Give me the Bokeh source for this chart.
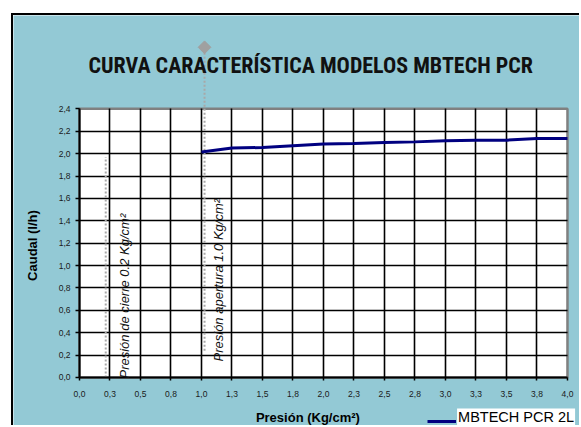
import math
from bokeh.plotting import figure
from bokeh.models import Range1d, FixedTicker, Label, Legend, LegendItem
from bokeh.embed import file_html
from bokeh.resources import INLINE

title_text = "CURVA CARACTERÍSTICA  MODELOS MBTECH PCR"
x_title = "Presión  (Kg/cm²)"
y_title = "Caudal (l/h)"
series_name = "MBTECH PCR 2L"

presion = [1.0, 1.25, 1.5, 1.75, 2.0, 2.25, 2.5, 2.75, 3.0, 3.25, 3.5, 3.75, 4.0]
caudal = [2.015, 2.05, 2.055, 2.07, 2.085, 2.09, 2.10, 2.105, 2.115, 2.12, 2.12, 2.135, 2.135]

x_ticks = [0.0, 0.25, 0.5, 0.75, 1.0, 1.25, 1.5, 1.75, 2.0, 2.25, 2.5, 2.75,
           3.0, 3.25, 3.5, 3.75, 4.0]
x_tick_labels = ["0,0", "0,3", "0,5", "0,8", "1,0", "1,3", "1,5", "1,8", "2,0",
                 "2,3", "2,5", "2,8", "3,0", "3,3", "3,5", "3,8", "4,0"]
y_ticks = [0.0, 0.2, 0.4, 0.6, 0.8, 1.0, 1.2, 1.4, 1.6, 1.8, 2.0, 2.2, 2.4]
y_tick_labels = ["0,0", "0,2", "0,4", "0,6", "0,8", "1,0", "1,2", "1,4", "1,6",
                 "1,8", "2,0", "2,2", "2,4"]

ref_labels = ["Presión de cierre  0.2 Kg/cm²", "Presión apertura 1.0 Kg/cm²"]
ref_x = [0.215, 1.025]
ref_y0 = [0.0, 0.24]
ref_y1 = [1.97, 2.95]

BG = "#93C9D5"

# whole canvas is the frame: 122 px per x unit, 111.94 px per y unit
p = figure(width=568, height=412, output_backend="svg", toolbar_location=None,
           x_range=Range1d(-0.541, 4.115), y_range=Range1d(-0.4467, 3.234),
           min_border_left=0, min_border_right=0, min_border_top=0, min_border_bottom=0,
           background_fill_color=BG, border_fill_color=BG, outline_line_color=None)
p.margin = (13, 0, 0, 11)
p.styles = {"border-top": "2px solid black", "border-left": "2px solid black"}

# plot area
p.quad(left=[x_ticks[0]], right=[x_ticks[-1]], bottom=[y_ticks[0]], top=[y_ticks[-1]],
       fill_color="white", line_color="#808080", line_width=2.5, level="image")

for ax, ticks, labels, tout, stand in ((p.xaxis, x_ticks, x_tick_labels, 3, 11),
                                       (p.yaxis, y_ticks, y_tick_labels, 4, 5)):
    ax.ticker = FixedTicker(ticks=ticks)
    ax.major_label_overrides = dict(zip(ticks, labels))
    ax.bounds = (ticks[0], ticks[-1])
    ax.fixed_location = 0
    ax.axis_line_color = "black"
    ax.axis_line_width = 2
    ax.major_tick_line_color = "black"
    ax.major_tick_line_width = 1.5
    ax.major_tick_out = tout
    ax.major_tick_in = 0
    ax.minor_tick_out = 0
    ax.minor_tick_in = 0
    ax.major_label_standoff = stand
    ax.major_label_text_font = "Liberation Sans"
    ax.major_label_text_font_size = "8.5px"
    ax.major_label_text_color = "#1a1a1a"

p.xgrid.ticker = FixedTicker(ticks=x_ticks[1:-1])
p.ygrid.ticker = FixedTicker(ticks=y_ticks[1:-1])
p.xgrid.cross_bounds = (y_ticks[0], y_ticks[-1])
p.ygrid.cross_bounds = (x_ticks[0], x_ticks[-1])
for g in (p.xgrid, p.ygrid):
    g.grid_line_color = "black"
    g.grid_line_width = 1.6
    g.grid_line_alpha = 1.0

# reference (dotted) lines
p.segment(x0=ref_x, y0=ref_y0, x1=ref_x, y1=ref_y1, line_color="#A8A8A8",
          line_width=2, line_dash="2 2")
p.scatter(x=[ref_x[1]], y=[ref_y1[1]], marker="square", angle=math.pi / 4, size=9,
          fill_color="#A0A0A0", line_color="#A0A0A0")

line_r = p.line(presion, caudal, line_color="#000080", line_width=3)

legend = Legend(items=[LegendItem(label=" ", renderers=[line_r])], location=(414, 1),
                glyph_width=29, glyph_height=10, padding=0, margin=0, spacing=0,
                label_standoff=0, label_width=0, label_height=10,
                label_text_font_size="1px",
                border_line_color=None, background_fill_alpha=0)
p.add_layout(legend)

p.add_layout(Label(x=3.095, y=-0.357, text=series_name, text_font="Liberation Sans",
                   text_font_size="14.5px", text_color="black", text_baseline="alphabetic",
                   background_fill_color="white", padding=1))

p.add_layout(Label(x=1.916, y=2.787, text=title_text, text_font="Roboto Condensed",
                   text_font_style="bold", text_font_size="22px", text_color="#111111",
                   text_align="center", text_baseline="alphabetic"))
p.add_layout(Label(x=1.887, y=-0.353, text=x_title, text_font="Liberation Sans",
                   text_font_style="bold", text_font_size="13px", text_color="black",
                   text_align="center", text_baseline="alphabetic"))
p.add_layout(Label(x=-0.386, y=1.179, text=y_title, text_font="Liberation Sans",
                   text_font_style="bold", text_font_size="13px", text_color="black",
                   text_align="center", text_baseline="alphabetic", angle=math.pi / 2))

ref_lab_x = [0.37, 1.14]
ref_lab_y = [-0.009, 0.143]
for t, lx, ly in zip(ref_labels, ref_lab_x, ref_lab_y):
    p.add_layout(Label(x=lx, y=ly, text=t, text_font="Liberation Sans",
                       text_font_style="italic", text_font_size="13px", text_color="#111111",
                       text_align="left", text_baseline="alphabetic", angle=math.pi / 2))

open("out.html", "w").write(file_html(p, INLINE))
